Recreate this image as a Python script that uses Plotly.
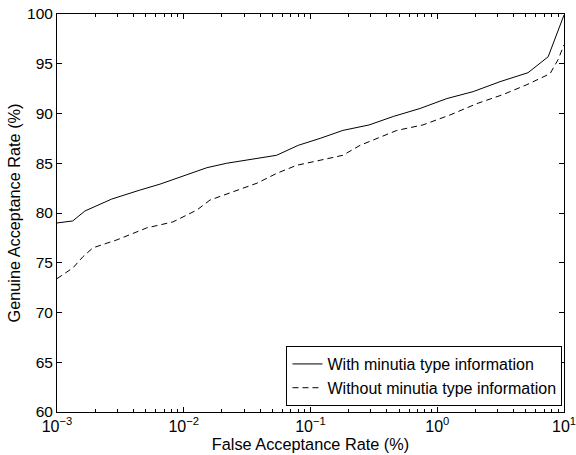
import plotly.graph_objects as go

far_with = [0.001, 0.00133, 0.00166, 0.0027, 0.0045, 0.0065, 0.0152, 0.0218, 0.054, 0.08, 0.119,
            0.18, 0.29, 0.45, 0.73, 1.19, 1.92, 3.13, 5.2, 7.5, 10]
gar_with = [79.0, 79.2, 80.2, 81.4, 82.3, 82.9, 84.55, 85.0, 85.8, 86.8, 87.5,
            88.3, 88.85, 89.7, 90.5, 91.5, 92.2, 93.2, 94.1, 95.7, 99.9]

far_without = [0.001, 0.00134, 0.0016, 0.00192, 0.00297, 0.0051, 0.0082, 0.0127, 0.0161, 0.0232,
               0.0379, 0.0544, 0.078, 0.119, 0.18, 0.246, 0.48, 0.77, 1.26, 2.06, 3.3, 5.1,
               7.76, 8.97, 10]
gar_without = [73.4, 74.5, 75.6, 76.5, 77.3, 78.5, 79.1, 80.3, 81.3, 82.0,
               83.0, 84.0, 84.8, 85.3, 85.8, 86.8, 88.3, 88.85, 89.85, 91.0, 91.9, 92.9,
               94.0, 95.4, 96.9]

x_tickvals = [0.001, 0.01, 0.1, 1, 10]
x_ticktext = ["10<sup>−3</sup>", "10<sup>−2</sup>", "10<sup>−1</sup>", "10<sup>0</sup>", "10<sup>1</sup>"]

FONT = "Liberation Sans, Arial, sans-serif"

fig = go.Figure()
fig.add_trace(go.Scatter(x=far_with, y=gar_with, mode="lines",
                         name="With minutia type information",
                         line=dict(color="black", width=1)))
fig.add_trace(go.Scatter(x=far_without, y=gar_without, mode="lines",
                         name="Without minutia type information",
                         line=dict(color="black", width=1, dash="6px,4px")))

fig.update_layout(
    width=576, height=455,
    margin=dict(l=57, r=12, t=14, b=43),
    paper_bgcolor="white", plot_bgcolor="white",
    font=dict(family=FONT, size=16, color="black"),
    showlegend=True,
    legend=dict(x=0.997, y=0.015, xanchor="right", yanchor="bottom",
                bordercolor="black", borderwidth=1, bgcolor="white",
                font=dict(size=16), tracegroupgap=0, itemwidth=30),
)
fig.update_xaxes(
    type="log", range=[-3, 1],
    tickmode="array", tickvals=x_tickvals, ticktext=x_ticktext,
    ticklabeloverflow="allow",
    showline=True, linecolor="black", linewidth=1, mirror="ticks",
    ticks="inside", ticklen=5, tickcolor="black",
    minor=dict(ticks="inside", ticklen=3, tickcolor="black", showgrid=False, dtick="D1"),
    showgrid=False, zeroline=False, automargin=False,
    tickfont=dict(size=16),
    title=dict(text="False Acceptance Rate (%)", font=dict(size=16.3), standoff=0),
)
fig.update_yaxes(
    range=[60, 100], dtick=5,
    showline=True, linecolor="black", linewidth=1, mirror="ticks",
    ticks="inside", ticklen=5, tickcolor="black",
    showgrid=False, zeroline=False, automargin=False,
    tickfont=dict(size=15.5),
    title=dict(text="Genuine Acceptance Rate (%)", font=dict(size=16.3), standoff=2),
)

fig.write_html("out.html")
